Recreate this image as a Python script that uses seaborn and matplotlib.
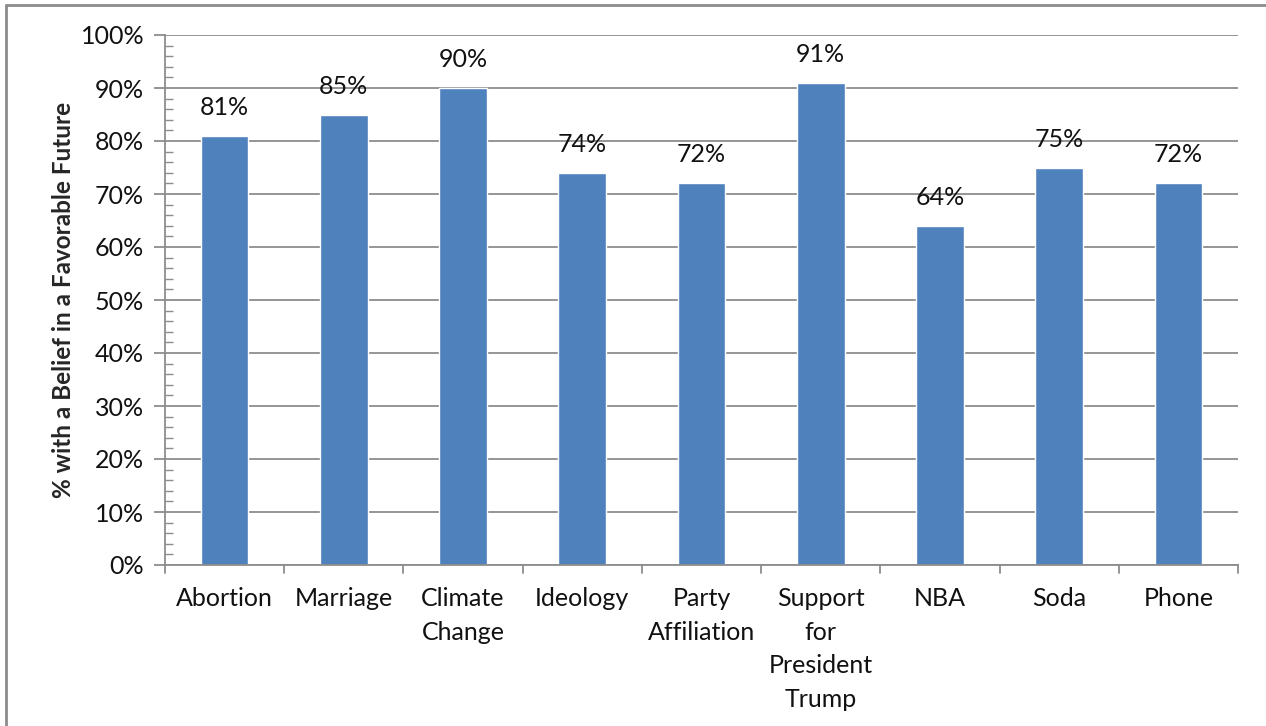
import matplotlib
matplotlib.use("Agg")
import matplotlib.pyplot as plt
import seaborn as sns
import pandas as pd
from matplotlib.ticker import MultipleLocator, FuncFormatter
from matplotlib.lines import Line2D

categories = ["Abortion", "Marriage", "Climate\nChange", "Ideology", "Party\nAffiliation",
              "Support\nfor\nPresident\nTrump", "NBA", "Soda", "Phone"]
values = [81, 85, 90, 74, 72, 91, 64, 75, 72]
value_labels = ["81%", "85%", "90%", "74%", "72%", "91%", "64%", "75%", "72%"]

sns.set_theme(style="white")
plt.rcParams['font.family'] = ['Lato', 'DejaVu Sans']

df = pd.DataFrame({"cat": categories, "val": values})

fig = plt.figure(figsize=(12.66, 7.26), dpi=100)
ax = fig.add_axes([165/1266, 1 - 565/726, (1238-165)/1266, (565-35)/726])

sns.barplot(data=df, x="cat", y="val", color="#4F81BD", width=0.4, saturation=1, ax=ax)
ax.set_xlim(-0.5, len(categories) - 0.5)
ax.set_ylim(0, 100)

grid_c = "#8C8C8C"
ax.yaxis.set_major_locator(MultipleLocator(10))
ax.yaxis.set_minor_locator(MultipleLocator(2))
ax.yaxis.set_major_formatter(FuncFormatter(lambda v, p: f"{int(v)}%"))
ax.grid(axis="y", which="major", color=grid_c, linewidth=1.3)
ax.set_axisbelow(True)
for s in ["top", "right"]:
    ax.spines[s].set_visible(False)
for s in ["left", "bottom"]:
    ax.spines[s].set_color(grid_c)
    ax.spines[s].set_linewidth(1.3)

ax.tick_params(axis="y", which="major", length=8, width=1.3, color=grid_c, direction="out",
               labelsize=18, pad=7, left=True)
ax.tick_params(axis="y", which="minor", length=6, width=1.0, color=grid_c, direction="in", left=True)
ax.tick_params(axis="x", which="both", length=0, labelsize=18, pad=16)

# x ticks at category boundaries
for b in [i - 0.5 for i in range(len(categories) + 1)]:
    ax.add_line(Line2D([b, b], [0, -1.5], color=grid_c, linewidth=1.3, clip_on=False,
                       transform=ax.transData))
ax.set_xticks(range(len(categories)))
ax.set_xticklabels(categories, va="top", linespacing=1.55)
for t in ax.get_xticklabels():
    t.set_color("#111111")
for t in ax.get_yticklabels():
    t.set_color("#111111")

ax.set_xlabel("")
ax.set_ylabel("% with a Belief in a Favorable Future", fontsize=17.5, fontweight="bold", labelpad=4)

for p, lab in zip(ax.patches, value_labels):
    ax.text(p.get_x() + p.get_width() / 2, p.get_height() + 3.2, lab, ha="center", va="bottom",
            fontsize=18, color="#111111")

# figure border (left and top)
fig.add_artist(Line2D([6/1266, 6/1266], [0, 1 - 5/726], color="#8C8C8C", linewidth=2, transform=fig.transFigure))
fig.add_artist(Line2D([6/1266, 1], [1 - 5/726, 1 - 5/726], color="#8C8C8C", linewidth=2, transform=fig.transFigure))

fig.savefig("out.png", dpi=100)
